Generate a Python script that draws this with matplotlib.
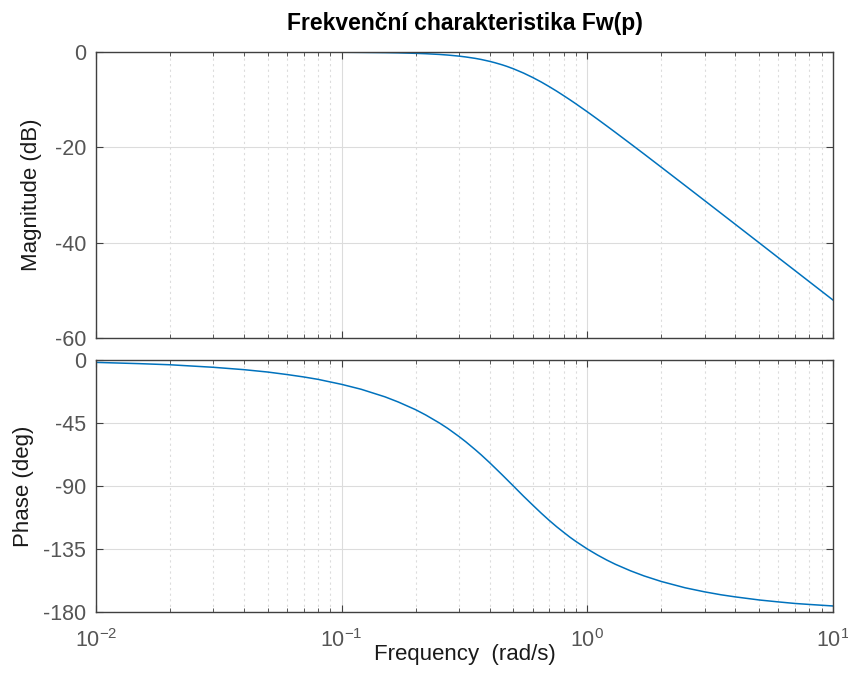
import matplotlib
matplotlib.use("Agg")
import matplotlib.pyplot as plt
from matplotlib.ticker import LogLocator, FixedLocator, NullFormatter

# ---------------- Data ----------------
freq = [0.01, 0.015, 0.02, 0.03, 0.04, 0.05, 0.06, 0.07, 0.08, 0.1, 0.12, 0.15, 0.17,
        0.2, 0.22, 0.25, 0.27, 0.3, 0.32, 0.35, 0.37, 0.4, 0.42, 0.45, 0.47, 0.5,
        0.55, 0.6, 0.65, 0.7, 0.75, 0.8, 0.85, 0.9, 1.0, 1.1, 1.2, 1.3, 1.5, 1.7,
        2.0, 2.5, 3.0, 3.5, 4.0, 5.0, 6.0, 7.0, 8.0, 10.0]
mag_db = [0.0, 0.0, 0.0, 0.0, -0.01, -0.01, -0.02, -0.02, -0.03, -0.05, -0.08, -0.13, -0.18,
          -0.28, -0.36, -0.51, -0.64, -0.86, -1.04, -1.34, -1.57, -1.96, -2.24, -2.69, -3.01, -3.52,
          -4.42, -5.36, -6.31, -7.27, -8.21, -9.14, -10.03, -10.9, -12.55, -14.09, -15.52, -16.85,
          -19.26, -21.38, -24.17, -28.01, -31.16, -33.83, -36.14, -40.01, -43.18, -45.85, -48.17,
          -52.04]
phase_deg = [-1.7, -2.6, -3.4, -5.2, -6.9, -8.6, -10.4, -12.1, -13.8, -17.4, -20.9, -26.3, -30.0,
             -35.5, -39.3, -45.0, -48.8, -54.6, -58.4, -64.1, -67.8, -73.3, -76.9, -82.0, -85.3,
             -90.0, -97.3, -103.7, -109.5, -114.6, -119.1, -123.0, -126.6, -129.7, -135.0,
             -139.3, -142.9, -145.9, -150.6, -154.2, -158.2, -162.7, -165.6, -167.7, -169.2,
             -171.4, -172.8, -173.9, -174.6, -175.7]

mag_ticks = [-60, -40, -20, 0]
phase_ticks = [-180, -135, -90, -45, 0]

title = "Frekvenční charakteristika Fw(p)"

# ---------------- Style ----------------
plt.rcParams['font.family'] = ['Liberation Sans', 'DejaVu Sans']
plt.rcParams['axes.unicode_minus'] = False
plt.rcParams['mathtext.fontset'] = 'custom'
plt.rcParams['mathtext.rm'] = 'Liberation Sans'
plt.rcParams['mathtext.it'] = 'Liberation Sans:italic'
plt.rcParams['mathtext.bf'] = 'Liberation Sans:bold'
line_color = "#0072BD"
axis_color = "#404040"
tick_color = "#555555"
label_color = "#1a1a1a"

fig = plt.figure(figsize=(8.48, 6.82), dpi=100)
W, H = 848, 682
left, right = 96, 833
ax1 = fig.add_axes([left / W, 1 - 338 / H, (right - left) / W, (338 - 52) / H])
ax2 = fig.add_axes([left / W, 1 - 612 / H, (right - left) / W, (612 - 360) / H])

ax1.plot(freq, mag_db, color=line_color, lw=1.1)
ax2.plot(freq, phase_deg, color=line_color, lw=1.1)

for ax, ticks in ((ax1, mag_ticks), (ax2, phase_ticks)):
    ax.set_xscale("log")
    ax.set_xlim(0.01, 10)
    ax.set_ylim(ticks[0], ticks[-1])
    ax.yaxis.set_major_locator(FixedLocator(ticks))
    ax.xaxis.set_major_locator(LogLocator(base=10, numticks=10))
    ax.xaxis.set_minor_locator(LogLocator(base=10, subs=range(2, 10), numticks=10))
    ax.xaxis.set_minor_formatter(NullFormatter())
    ax.grid(True, which="major", color="#dcdcdc", lw=0.8, ls="-")
    ax.grid(True, which="minor", axis="x", color="#dcdcdc", lw=0.8, ls=(0, (2, 3)))
    ax.set_axisbelow(True)
    for s in ax.spines.values():
        s.set_color(axis_color)
        s.set_linewidth(1.0)
    ax.tick_params(which="both", direction="in", top=True, right=True,
                   color=axis_color, labelcolor=tick_color, labelsize=15.5)
    ax.tick_params(which="major", length=5)
    ax.tick_params(which="minor", length=3)
    ax.tick_params(axis="y", which="major", length=5, pad=7)
    ax.tick_params(axis="y", which="minor", length=0)
    ax.tick_params(axis="x", which="major", pad=12)

ax1.tick_params(labelbottom=False)
ax1.set_ylabel("Magnitude (dB)", fontsize=16, color=label_color)
ax2.set_ylabel("Phase (deg)", fontsize=16, color=label_color)
ax2.set_xlabel("Frequency  (rad/s)", fontsize=16, color=label_color)
ax1.yaxis.set_label_coords(-0.073, 0.5)
ax2.yaxis.set_label_coords(-0.084, 0.5)
ax2.xaxis.set_label_coords(0.5, -0.128)
ax1.set_title(title, fontsize=16.5, fontweight="bold", pad=16)

fig.savefig("out.png", dpi=100)
